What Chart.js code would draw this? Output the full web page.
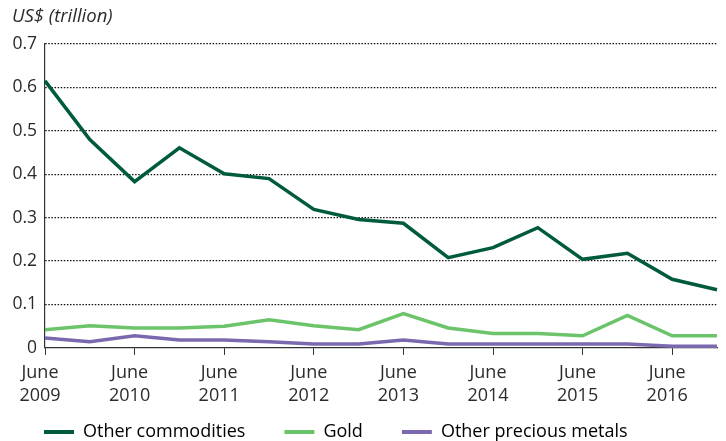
<!DOCTYPE html>
<html>
<head>
<meta charset="utf-8">
<script src="https://cdn.jsdelivr.net/npm/chart.js@4.4.1/dist/chart.umd.min.js"></script>
<style>
  html, body { margin: 0; padding: 0; background: #fff; }
  #wrap { width: 726px; height: 441px; position: relative; }
</style>
</head>
<body>
<div id="wrap"><canvas id="commodityChart"></canvas></div>
<script>
// Half-year periods, June 2009 to December 2016
const periods = [
  "Jun 2009", "Dec 2009", "Jun 2010", "Dec 2010", "Jun 2011", "Dec 2011",
  "Jun 2012", "Dec 2012", "Jun 2013", "Dec 2013", "Jun 2014", "Dec 2014",
  "Jun 2015", "Dec 2015", "Jun 2016", "Dec 2016"
];
// Axis labels: only the June points carry a label
const tickLabels = [
  ["June", "2009"], "", ["June", "2010"], "", ["June", "2011"], "", ["June", "2012"], "",
  ["June", "2013"], "", ["June", "2014"], "", ["June", "2015"], "", ["June", "2016"], ""
];
const yTicks = [0, 0.1, 0.2, 0.3, 0.4, 0.5, 0.6, 0.7];
const unitLabel = "US$ (trillion)";

// Values in US$ trillion
const otherCommodities = [0.615, 0.48, 0.383, 0.461, 0.401, 0.39, 0.319, 0.296, 0.287, 0.208, 0.231, 0.277, 0.204, 0.218, 0.158, 0.134];
const gold = [0.042, 0.051, 0.046, 0.046, 0.05, 0.065, 0.051, 0.042, 0.079, 0.046, 0.033, 0.033, 0.028, 0.075, 0.028, 0.028];
const otherPreciousMetals = [0.023, 0.014, 0.028, 0.018, 0.018, 0.014, 0.009, 0.009, 0.018, 0.009, 0.009, 0.009, 0.009, 0.009, 0.004, 0.004];

const textColor = "#2b2b2b";
const fontFamily = "'Open Sans', 'Liberation Sans', Arial, sans-serif";

const line = (label, data, color) => ({
  label: label,
  data: data,
  borderColor: color,
  backgroundColor: color,
  borderWidth: 3.5,
  pointRadius: 0,
  tension: 0,
});

// unit label drawn in the top-left corner
const unitTitle = {
  id: "unitTitle",
  afterDraw: (chart) => {
    const ctx = chart.ctx;
    ctx.save();
    ctx.fillStyle = textColor;
    ctx.font = "italic 18.5px " + fontFamily;
    ctx.textAlign = "left";
    ctx.textBaseline = "middle";
    ctx.fillText(unitLabel, 12, 17);
    ctx.restore();
  },
};

// keep the legend row short so the wide item spacing does not eat plot height
const compactLegend = {
  id: "compactLegend",
  beforeLayout: (chart) => {
    const lg = chart.legend;
    if (lg && !lg._compact) {
      const fit = lg.fit.bind(lg);
      const draw = lg.draw.bind(lg);
      lg.fit = function () { fit(); this.height = 28; };
      lg.draw = function () {
        const top = this.top;
        this.top = top - 29;
        draw();
        this.top = top;
      };
      lg._compact = true;
    }
  },
};

new Chart(document.getElementById("commodityChart").getContext("2d"), {
  type: "line",
  data: {
    labels: periods,
    datasets: [
      line("Other commodities", otherCommodities, "#005a3e"),
      line("Gold", gold, "#6cc46a"),
      line("Other precious metals", otherPreciousMetals, "#7b69b0"),
    ],
  },
  options: {
    responsive: true,
    maintainAspectRatio: false,
    animation: false,
    layout: { padding: { left: 5, right: 9, top: 44, bottom: 0 } },
    plugins: {
      legend: {
        position: "bottom",
        align: "start",
        labels: {
          color: textColor,
          font: { family: fontFamily, size: 18 },
          boxWidth: 30,
          boxHeight: 4,
          padding: 39,
          generateLabels: (chart) => chart.data.datasets.map((ds, i) => ({
            text: ds.label,
            fillStyle: ds.borderColor,
            strokeStyle: ds.borderColor,
            lineWidth: 0,
            datasetIndex: i,
          })),
        },
      },
      tooltip: { enabled: false },
    },
    scales: {
      x: {
        offset: false,
        border: { display: true, color: "#333", width: 1.2 },
        grid: {
          drawOnChartArea: false,
          drawTicks: true,
          tickLength: 7,
          color: (ctx) => (ctx.index % 2 === 0 ? "#333" : "rgba(0,0,0,0)"),
        },
        ticks: {
          autoSkip: false,
          maxRotation: 0,
          color: textColor,
          font: { family: fontFamily, size: 18, lineHeight: 1.28 },
          padding: 6,
          labelOffset: -5,
          callback: (value, index) => tickLabels[index],
        },
      },
      y: {
        min: 0,
        max: 0.7,
        afterBuildTicks: (axis) => { axis.ticks = yTicks.map((v) => ({ value: v })); },
        afterFit: (axis) => { axis.width = 40; },
        border: { display: true, color: "#333", width: 1.2, dash: [1.5, 1.6] },
        grid: {
          drawTicks: false,
          color: (ctx) => (ctx.tick && ctx.tick.value === 0 ? "rgba(0,0,0,0)" : "#111"),
          lineWidth: 1.2,
        },
        ticks: {
          color: textColor,
          font: { family: fontFamily, size: 17.5 },
          padding: 8,
          callback: (value) => (value === 0 ? "0" : value.toFixed(1)),
        },
      },
    },
  },
  plugins: [unitTitle, compactLegend],
});
</script>
</body>
</html>
